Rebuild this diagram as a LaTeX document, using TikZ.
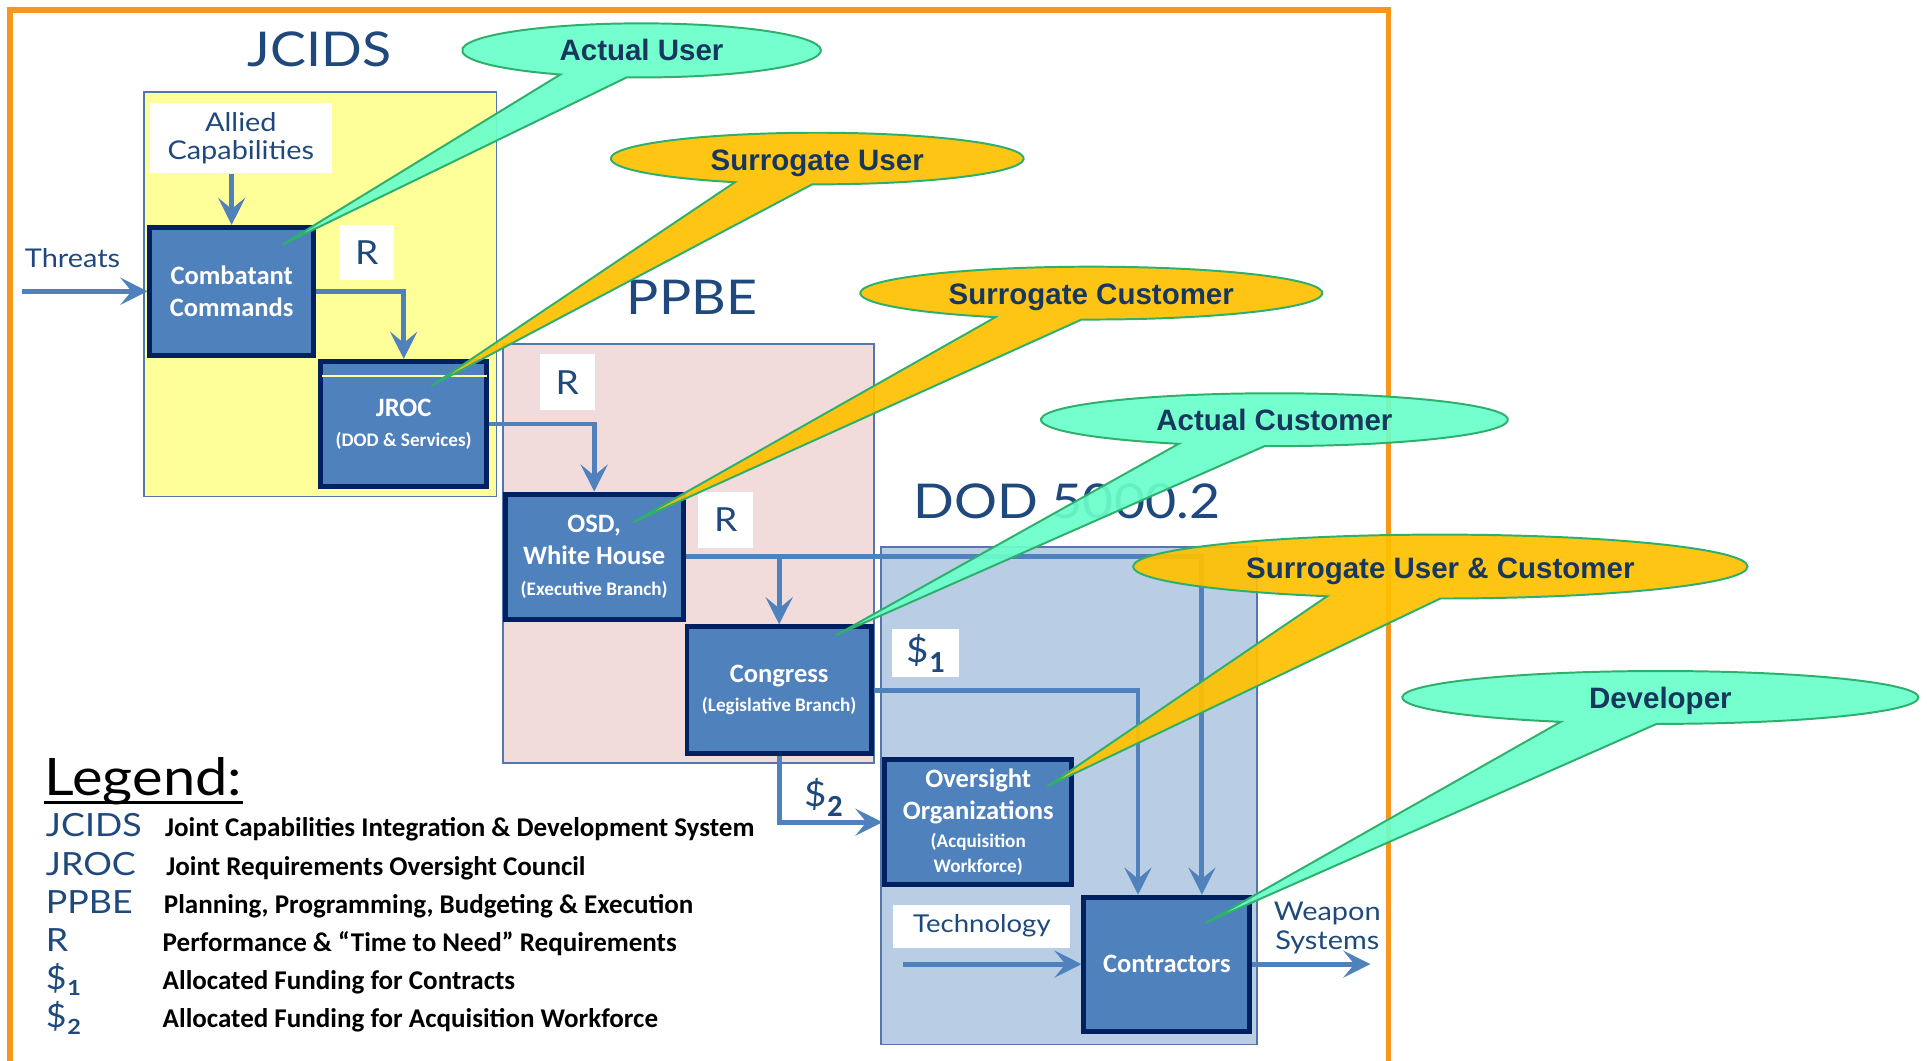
\documentclass[tikz,border=0pt]{standalone}
\usepackage{fontspec}
\setmainfont{Carlito}
\newfontfamily\lightf[FakeStretch=1.12]{Lato}
\newfontfamily\callf{Liberation Sans}
\usetikzlibrary{arrows.meta,calc}
\definecolor{frameorange}{RGB}{247,150,28}
\definecolor{boxblue}{RGB}{79,129,189}
\definecolor{navy}{RGB}{0,32,96}
\definecolor{arrowblue}{RGB}{79,129,189}
\definecolor{jyellow}{RGB}{255,255,153}
\definecolor{ppink}{RGB}{242,220,219}
\definecolor{dblue}{RGB}{185,205,229}
\definecolor{regionline}{RGB}{84,118,170}
\definecolor{titleblue}{RGB}{31,73,125}
\definecolor{callgreen}{RGB}{106,255,202}
\definecolor{callorange}{RGB}{255,192,0}
\definecolor{callline}{RGB}{46,176,108}
\definecolor{calltext}{RGB}{23,55,94}
\newcommand\dsub[4]{{\lightf\fontsize{#1}{#1}\selectfont\$}\kern0.3pt\raisebox{-#3}{\bfseries\fontsize{#2}{#2}\selectfont #4}}
\newcommand\smtxt{\fontsize{7.8}{9}\selectfont}
\begin{document}
\begin{tikzpicture}[x=0.5pt,y=-0.5pt,
  region/.style={draw=regionline,line width=0.7pt},
  box/.style={draw=navy,fill=boxblue,line width=2pt,text=white,align=center,inner sep=0pt,font=\bfseries\fontsize{10.8}{13}\selectfont},
  wlab/.style={fill=white,inner sep=0pt,text=titleblue,align=center},
  plain/.style={inner sep=0pt,text=titleblue,align=center},
  title/.style={inner sep=0pt,text=titleblue,font=\lightf\fontsize{19.5}{22}\selectfont},
  arr/.style={draw=arrowblue,line width=2pt,-{Stealth[length=11pt,width=11pt,inset=4.5pt]}},
  bubg/.style={draw=callline,line width=0.8pt,fill=callgreen,fill opacity=0.92},
  bubo/.style={draw=callline,line width=0.8pt,fill=callorange,fill opacity=0.92},
  btext/.style={inner sep=0pt,anchor=base,text=calltext,font=\callf\bfseries\fontsize{12}{14}\selectfont},
  legab/.style={inner sep=0pt,anchor=base west,text=titleblue,font=\lightf\fontsize{13}{15}\selectfont},
  legtx/.style={inner sep=0pt,anchor=base west,text=black,font=\bfseries\fontsize{11}{13}\selectfont},
]
\useasboundingbox (0,0) rectangle (1568,863);
% frame
\draw[frameorange,line width=2.2pt] (8,863) -- (8,8) -- (1130,8) -- (1130,863);
% regions
\path[region,fill=jyellow] (117,75) rectangle (404,404);
\path[region,fill=ppink] (409,280) rectangle (711,621);
\path[region,fill=dblue] (717,445) rectangle (1023,850);
% titles
\node[title] (tj) at (260,40) {JCIDS};
\node[title] (tp) at (563,242) {PPBE};
\node[title] (td) at (868,408) {DOD 5000.2};
% white labels
\node[wlab,minimum width=74pt,minimum height=28.5pt,font=\lightf\fontsize{10.5}{11.5}\selectfont] (allied) at (196,112.5) {Allied\\Capabilities};
\node[wlab,minimum width=22.5pt,minimum height=22.5pt,font=\lightf\fontsize{13.5}{15}\selectfont] (r1) at (298.5,205.5) {R};
\node[wlab,minimum width=22.5pt,minimum height=23pt,font=\lightf\fontsize{13.5}{15}\selectfont] (r2) at (461.5,311) {R};
\node[wlab,minimum width=22.5pt,minimum height=23pt,font=\lightf\fontsize{13.5}{15}\selectfont] (r3) at (590.5,423) {R};
\node[wlab,minimum width=27pt,minimum height=19.5pt] (d1) at (753,531.5) {\dsub{14}{12.5}{4pt}{1}};
\node[wlab,minimum width=72pt,minimum height=17.5pt,font=\lightf\fontsize{10}{12}\selectfont] (tech) at (799,753.5) {Technology};
% plain labels
\node[plain,font=\lightf\fontsize{10.5}{12}\selectfont] (thr) at (59,210) {Threats};
\node[plain] (d2) at (670,649) {\dsub{14}{12.5}{4pt}{2}};
\node[plain,font=\lightf\fontsize{10.5}{12}\selectfont] (ws) at (1080,755) {Weapon\\Systems};
% boxes
\node[box,minimum width=66.5pt,minimum height=52pt] (cc) at (188.5,237) {Combatant\\Commands};
\node[box,minimum width=67.5pt,minimum height=51pt] (jroc) at (328.5,345) {JROC\\[-1pt]{\smtxt(DOD \& Services)}};
\draw[jyellow,line width=0.6pt] (262,306) -- (396,306);
\node[box,minimum width=72.5pt,minimum height=51pt] (osd) at (483.5,453) {OSD,\\White House\\[-0.5pt]{\smtxt(Executive Branch)}};
\node[box,minimum width=75pt,minimum height=51.5pt] (cong) at (634,561.5) {Congress\\[-1pt]{\smtxt(Legislative Branch)}};
\node[box,minimum width=76pt,minimum height=51pt] (over) at (796,669) {Oversight\\Organizations\\[-1.5pt]{\smtxt(Acquisition}\\[-3pt]{\smtxt Workforce)}};
\node[box,minimum width=67.5pt,minimum height=54.5pt] (contr) at (949.5,784.5) {Contractors};
% connectors
\coordinate (thrs) at (18,237);
\coordinate (techs) at (735,784.5);
\coordinate (wout) at (1115,784.5);
\draw[arr] (thrs) -- (cc.west);
\draw[arr] (cc.north |- allied.south) -- (cc.north);
\draw[arr] (cc.east) -| (jroc.north);
\draw[arr] (jroc.east) -| (osd.north);
\draw[arr] (osd.east) -| ([xshift=14.25pt]contr.north);
\draw[arr] (cong.north |- osd.east) -- (cong.north);
\draw[arr] (cong.east) -| ([xshift=-11.75pt]contr.north);
\draw[arr] (cong.south) |- (over.west);
\draw[arr] (techs) -- (contr.west);
\draw[arr] (contr.east) -- (wout);
% callouts
\draw[bubg] (230,199) -- ([shift={(94.7:146 and 22)}]522,41) arc[start angle=94.7,end angle=-243.1,x radius=146,y radius=22] -- cycle;
\node[btext] (cu1) at (522,49.5) {Actual User};
\draw[bubo] (351,314) -- ([shift={(91.4:168 and 21)}]665,129) arc[start angle=91.4,end angle=-246.5,x radius=168,y radius=21] -- cycle;
\node[btext] (cu2) at (665,138.5) {Surrogate User};
\draw[bubo] (515,425) -- ([shift={(92.4:188 and 21.5)}]888,238.5) arc[start angle=92.4,end angle=-245.5,x radius=188,y radius=21.5] -- cycle;
\node[btext] (cu3) at (888,248) {Surrogate Customer};
\draw[bubg] (680,517) -- ([shift={(92.4:190 and 21.5)}]1037,341.5) arc[start angle=92.4,end angle=-245.8,x radius=190,y radius=21.5] -- cycle;
\node[btext] (cu4) at (1037,350.5) {Actual Customer};
\draw[bubo] (852,640) -- ([shift={(90:250 and 26)}]1172,461) arc[start angle=90,end angle=-248.4,x radius=250,y radius=26] -- cycle;
\node[btext] (cu5) at (1172,470.5) {Surrogate User \& Customer};
\draw[bubg] (981,751) -- ([shift={(90.8:210 and 21.5)}]1351,567.5) arc[start angle=90.8,end angle=-247.3,x radius=210,y radius=21.5] -- cycle;
\node[btext] (cu6) at (1351,576.5) {Developer};
% legend
\node[inner sep=0pt,anchor=base west,font=\lightf\fontsize{21}{23}\selectfont] (leg) at (36,647) {Legend:};
\draw[line width=1.2pt] ([yshift=-3pt]leg.base west) -- ([yshift=-3pt]leg.base east);
\node[legab] (la1) at (37,681) {JCIDS};
\node[legtx] (lt1) at (134,681) {Joint Capabilities Integration \& Development System};
\node[legab] (la2) at (37,712) {JROC};
\node[legtx] (lt2) at (135,712) {Joint Requirements Oversight Council};
\node[legab] (la3) at (37,743) {PPBE};
\node[legtx] (lt3) at (133,743) {Planning, Programming, Budgeting \& Execution};
\node[legab] (la4) at (37,774) {R};
\node[legtx] (lt4) at (132,774) {Performance \& “Time to Need” Requirements};
\node[legab] (la5) at (37,805) {\dsub{13}{8.5}{2.7pt}{1}};
\node[legtx] (lt5) at (132,805) {Allocated Funding for Contracts};
\node[legab] (la6) at (37,836) {\dsub{13}{8.5}{2.7pt}{2}};
\node[legtx] (lt6) at (132,836) {Allocated Funding for Acquisition Workforce};
\end{tikzpicture}
\end{document}
